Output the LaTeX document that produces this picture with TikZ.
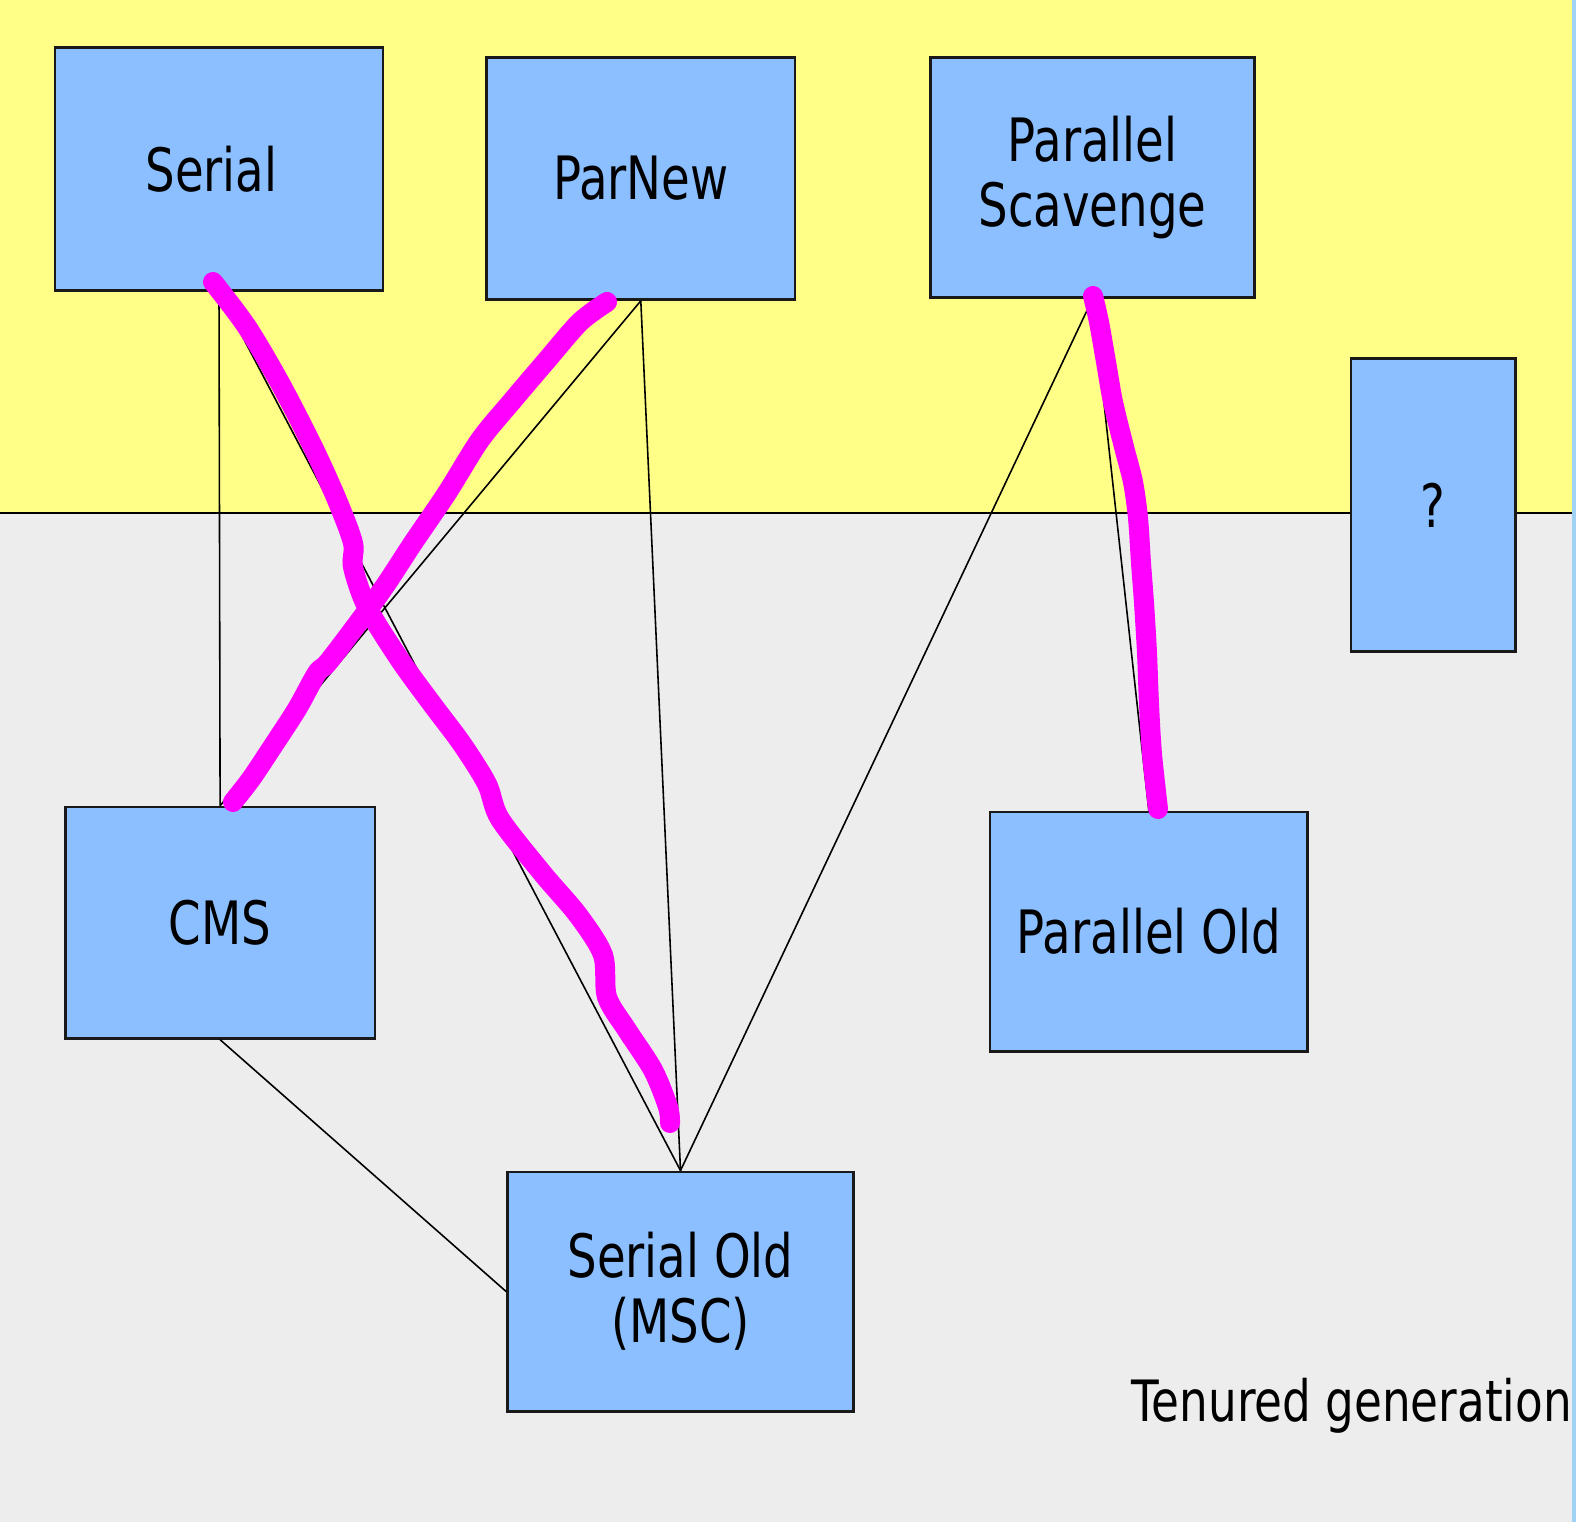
\documentclass[tikz,border=0pt]{standalone}
\usepackage{fontspec}
\setmainfont{DejaVu Sans}[FakeStretch=0.78]
\newfontfamily\tenuredfont{DejaVu Sans}[FakeStretch=0.795]
\usepackage{tikz}
\definecolor{younggen}{RGB}{255,255,136}
\definecolor{oldgen}{RGB}{237,237,237}
\definecolor{gcblue}{RGB}{139,191,255}
\definecolor{edgeblue}{RGB}{160,210,245}
\definecolor{scribblepink}{RGB}{255,0,255}

\begin{document}
\begin{tikzpicture}[x=0.01cm,y=-0.01cm,
    gc/.style={draw=black!90,line width=0.75pt,fill=gcblue,inner sep=0pt,align=center,
      font=\fontsize{17}{18.5}\selectfont},
    link/.style={draw=black,line width=0.45pt},
    scribble/.style={draw=scribblepink,line width=0.2cm,line cap=round,line join=round}]
  \useasboundingbox (0,0) rectangle (1576,1522);
  \fill[oldgen] (0,0) rectangle (1576,1522);
  \fill[younggen] (0,0) rectangle (1572,512.6);
  \fill[edgeblue] (1572,0) rectangle (1576,1522);
  \draw[line width=0.6pt] (0,512.6) -- (1572,512.6);

  \node[gc,minimum width=3.28cm,minimum height=2.43cm] (serial) at (219,169) {\hspace*{-0.15cm}Serial};
  \node[gc,minimum width=3.085cm,minimum height=2.42cm] (parnew) at (640.8,178.4) {ParNew};
  \node[gc,minimum width=3.237cm,minimum height=2.40cm] (parscav) at (1092.5,177.4) {Parallel\\Scavenge};
  \node[gc,minimum width=1.648cm,minimum height=2.925cm] (unknown) at (1433.3,505) {?};
  \node[gc,minimum width=3.096cm,minimum height=2.312cm] (cms) at (220.1,922.7) {CMS};
  \node[gc,minimum width=3.176cm,minimum height=2.392cm] (parold) at (1148.8,931.7) {Parallel Old};
  \node[gc,minimum width=3.457cm,minimum height=2.393cm] (serialold) at (680.5,1291.6) {Serial Old\\(MSC)};
  \node[inner sep=0pt,anchor=base west,font=\tenuredfont\fontsize{16.2}{18}\selectfont] (tenured) at (1131,1421.7) {Tenured generation};

  \draw[link] (serial.south) -- (cms.north);
  \draw[link] (serial.south) -- (serialold.north);
  \draw[link] (parnew.south) -- (cms.north);
  \draw[link] (parnew.south) -- (serialold.north);
  \draw[link] (parscav.south) -- (serialold.north);
  \draw[link] (parscav.south) -- (parold.north);
  \draw[link] (cms.south) -- (serialold.west);

  \draw[scribble] plot[smooth] coordinates {(213,282) (247,327) (280,383) (313,447) (337,500) (353,543) (353,567) (367,607) (400,660) (432,704) (462,744) (487,784) (500,819) (543,874) (578,915) (603,955) (607,997) (627,1030) (653,1070) (668,1107) (670,1123)};
  \draw[scribble] plot[smooth] coordinates {(607,302) (580,322) (547,360) (513,400) (480,440) (447,493) (413,543) (380,593) (330,660) (317,673) (297,709) (271,749) (251,779) (233,802)};
  \draw[scribble] plot[smooth] coordinates {(1093,296) (1099,322) (1106,362) (1113,402) (1124,447) (1133,482) (1138,518) (1141,563) (1144,603) (1147,653) (1149,704) (1152,754) (1158,809)};
\end{tikzpicture}
\end{document}
